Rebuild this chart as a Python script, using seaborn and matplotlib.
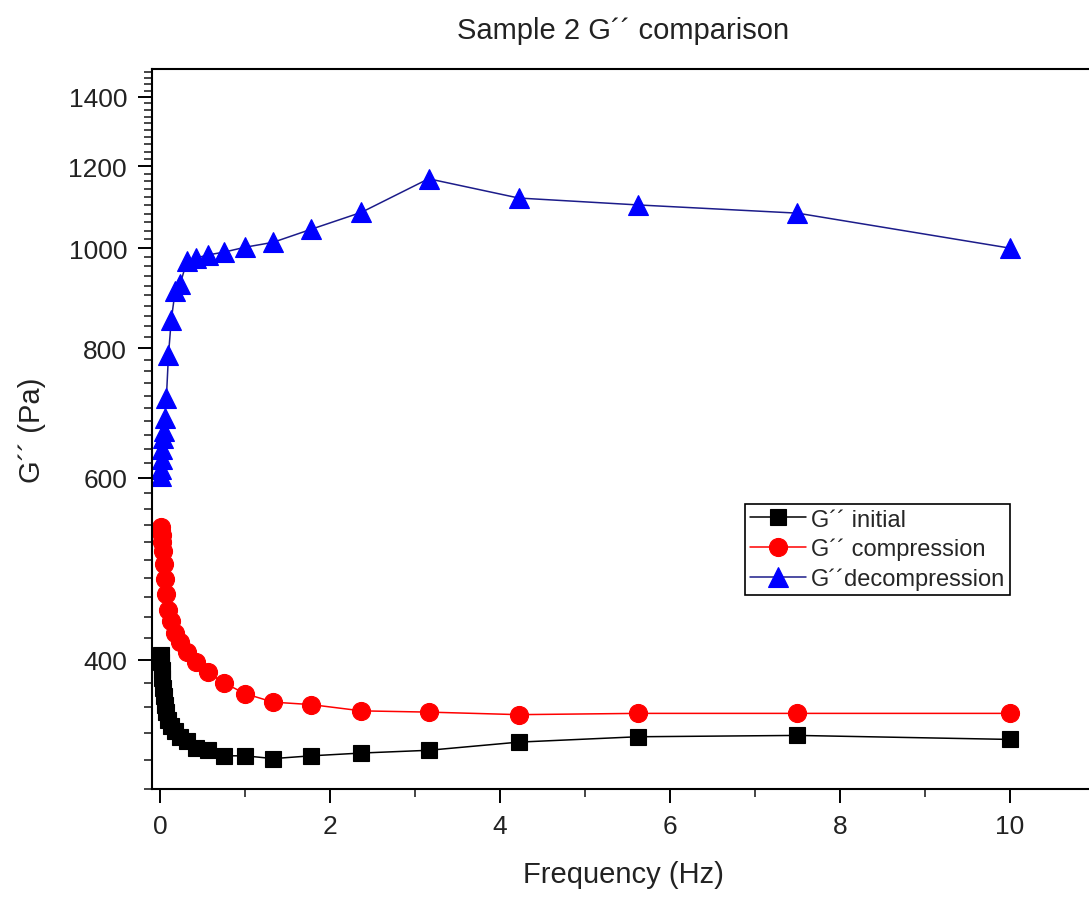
import numpy as np
import pandas as pd
import matplotlib
matplotlib.use("Agg")
import matplotlib.pyplot as plt
from matplotlib.ticker import FixedLocator, MultipleLocator, FixedFormatter, NullFormatter
import seaborn as sns

# ---- data ----
freq = [0.01, 0.0133, 0.0178, 0.0237, 0.0316, 0.0422, 0.0562, 0.075, 0.1,
        0.133, 0.178, 0.237, 0.316, 0.422, 0.562, 0.75, 1.0, 1.33, 1.78,
        2.37, 3.16, 4.22, 5.62, 7.5, 10.0]
g_initial = [404, 398, 391, 384, 376, 369, 362, 356, 350,
             345, 341, 337, 334, 329, 327, 323, 323, 321, 323,
             325, 327, 333, 337, 338, 335]
g_compression = [538, 534, 528, 520, 510, 495, 479, 463, 447,
                 436, 425, 416, 407, 398, 389, 380, 371, 364, 362,
                 357, 356, 354, 355, 355, 355]
g_decompression = [602, 612, 625, 640, 655, 666, 685, 716, 789,
                   853, 908, 923, 971, 978, 985, 991, 1002, 1013, 1043,
                   1083, 1167, 1118, 1101, 1081, 1000]

labels = ["G\u00b4\u00b4 initial", "G\u00b4\u00b4 compression", "G\u00b4\u00b4decompression"]
y_major = [400, 600, 800, 1000, 1200, 1400]
x_major = [0, 2, 4, 6, 8, 10]

title = "Sample 2 G\u00b4\u00b4 comparison"
xlabel = "Frequency (Hz)"
ylabel = "G\u00b4\u00b4 (Pa)"

# ---- style ----
sns.set_theme(style="ticks")
plt.rcParams["font.family"] = ["Liberation Sans", "DejaVu Sans"]

W, H = 1089, 904
fig = plt.figure(figsize=(W / 100, H / 100), dpi=100)
left, right, top, bottom = 152, 1095, 70, 790
ax = fig.add_axes([left / W, 1 - bottom / H, (right - left) / W, (bottom - top) / H])

series = [
    (g_initial, "black", "black", "s", 12),
    (g_compression, "red", "red", "o", 13),
    (g_decompression, "#1c1c8a", "#0000ff", "^", 14),
]
for (vals, lc, mc, mk, ms), lab in zip(series, labels):
    df = pd.DataFrame({"f": freq, "g": vals})
    sns.lineplot(data=df, x="f", y="g", ax=ax, color=lc, linewidth=1.1,
                 marker=mk, markersize=ms, markerfacecolor=mc,
                 markeredgecolor=mc, markeredgewidth=0.8, label=lab,
                 sort=False)

ax.set_yscale("log")
ax.set_xlim(-0.094, (right - 160) / 85)
ax.set_ylim(300, 1490)

ax.yaxis.set_major_locator(FixedLocator(y_major))
ax.yaxis.set_major_formatter(FixedFormatter([str(v) for v in y_major]))
ax.yaxis.set_minor_locator(MultipleLocator(20))
ax.yaxis.set_minor_formatter(NullFormatter())
ax.xaxis.set_major_locator(FixedLocator(x_major))
ax.xaxis.set_minor_locator(MultipleLocator(1))

ax.tick_params(axis="both", which="major", direction="out", length=10,
               width=1.4, labelsize=19, pad=8, colors="black",
               labelcolor="#222222")
ax.tick_params(axis="both", which="minor", direction="out", length=6,
               width=1.2)
ax.tick_params(top=False, right=False, which="both")

for s in ax.spines.values():
    s.set_linewidth(1.5)
    s.set_color("black")

ax.set_xlabel(xlabel, fontsize=21, labelpad=16, color="#222222")
ax.set_ylabel(ylabel, fontsize=21, labelpad=16, color="#222222")
ax.set_title(title, fontsize=21, pad=22, color="#222222")

leg = ax.legend(loc="upper left", bbox_to_anchor=(745 / W, 1 - 505 / H),
                bbox_transform=fig.transFigure, fontsize=17, frameon=True,
                fancybox=False, framealpha=1, edgecolor="black",
                handlelength=2.4, handletextpad=0.2, labelspacing=0.3,
                borderpad=0.2, borderaxespad=0)
leg.get_frame().set_linewidth(1.2)

fig.savefig("out.png", dpi=100)
